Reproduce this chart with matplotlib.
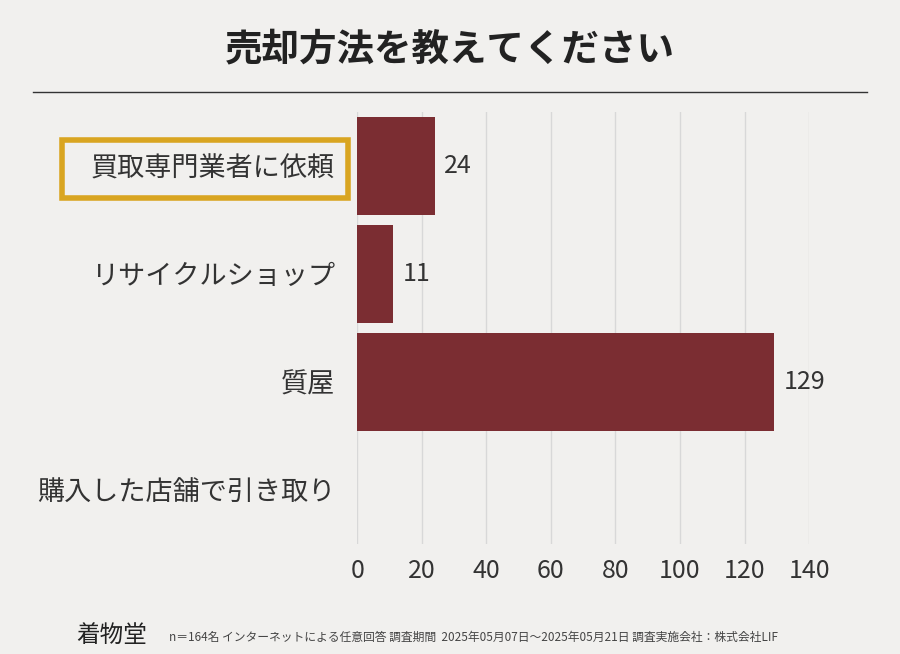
import matplotlib.pyplot as plt
from matplotlib.patches import Rectangle

plt.rcParams['font.family'] = 'Noto Sans CJK JP'

categories = ['買取専門業者に依頼', 'リサイクルショップ', '質屋', '購入した店舗で引き取り']
values = [24, 11, 129, 0]
xticks = [0, 20, 40, 60, 80, 100, 120, 140]

fig = plt.figure(figsize=(9, 6.54), dpi=100)
fig.patch.set_facecolor('#f1f0ee')
ax = fig.add_axes([0.397, 0.168, 0.502, 0.661])
ax.set_facecolor('none')

pos = list(range(len(categories)))
ax.barh(pos, values, height=0.9, color='#7b2d32', zorder=3)
for p, v in zip(pos, values):
    if v > 0:
        ax.text(v + 3, p, str(v), va='center', ha='left', fontsize=18, color='#333333')

ax.set_xlim(0, 140)
ax.set_ylim(3.5, -0.5)
ax.set_xticks(xticks)
ax.set_xticklabels([str(t) for t in xticks], fontsize=18, color='#333333')
ax.set_yticks(pos)
ax.set_yticklabels(categories, fontsize=19.5, color='#333333')
ax.tick_params(length=0, pad=10)
ax.tick_params(axis='y', pad=16)
ax.grid(axis='x', color='#d8d8d8', lw=1, zorder=0)
for s in ax.spines.values():
    s.set_visible(False)

# highlight box around first label
fig.patches.append(Rectangle((62/900, 1 - 198/654), 286/900, 58/654, transform=fig.transFigure,
                             fill=False, edgecolor='#d9a521', lw=4))

fig.text(0.5, 0.925, '売却方法を教えてください', ha='center', va='center', fontsize=27,
         fontweight='bold', color='#222222')
fig.add_artist(plt.Line2D([0.037, 0.963], [0.86, 0.86], color='#333333', lw=1))

fig.text(0.085, 0.028, '着物堂', fontsize=17, color='#222222', va='center')
fig.text(0.188, 0.025, 'n＝164名 インターネットによる任意回答 調査期間  2025年05月07日～2025年05月21日 調査実施会社：株式会社LIF',
         fontsize=8.5, color='#444444', va='center')

fig.savefig('out.png', dpi=100, facecolor=fig.get_facecolor())
